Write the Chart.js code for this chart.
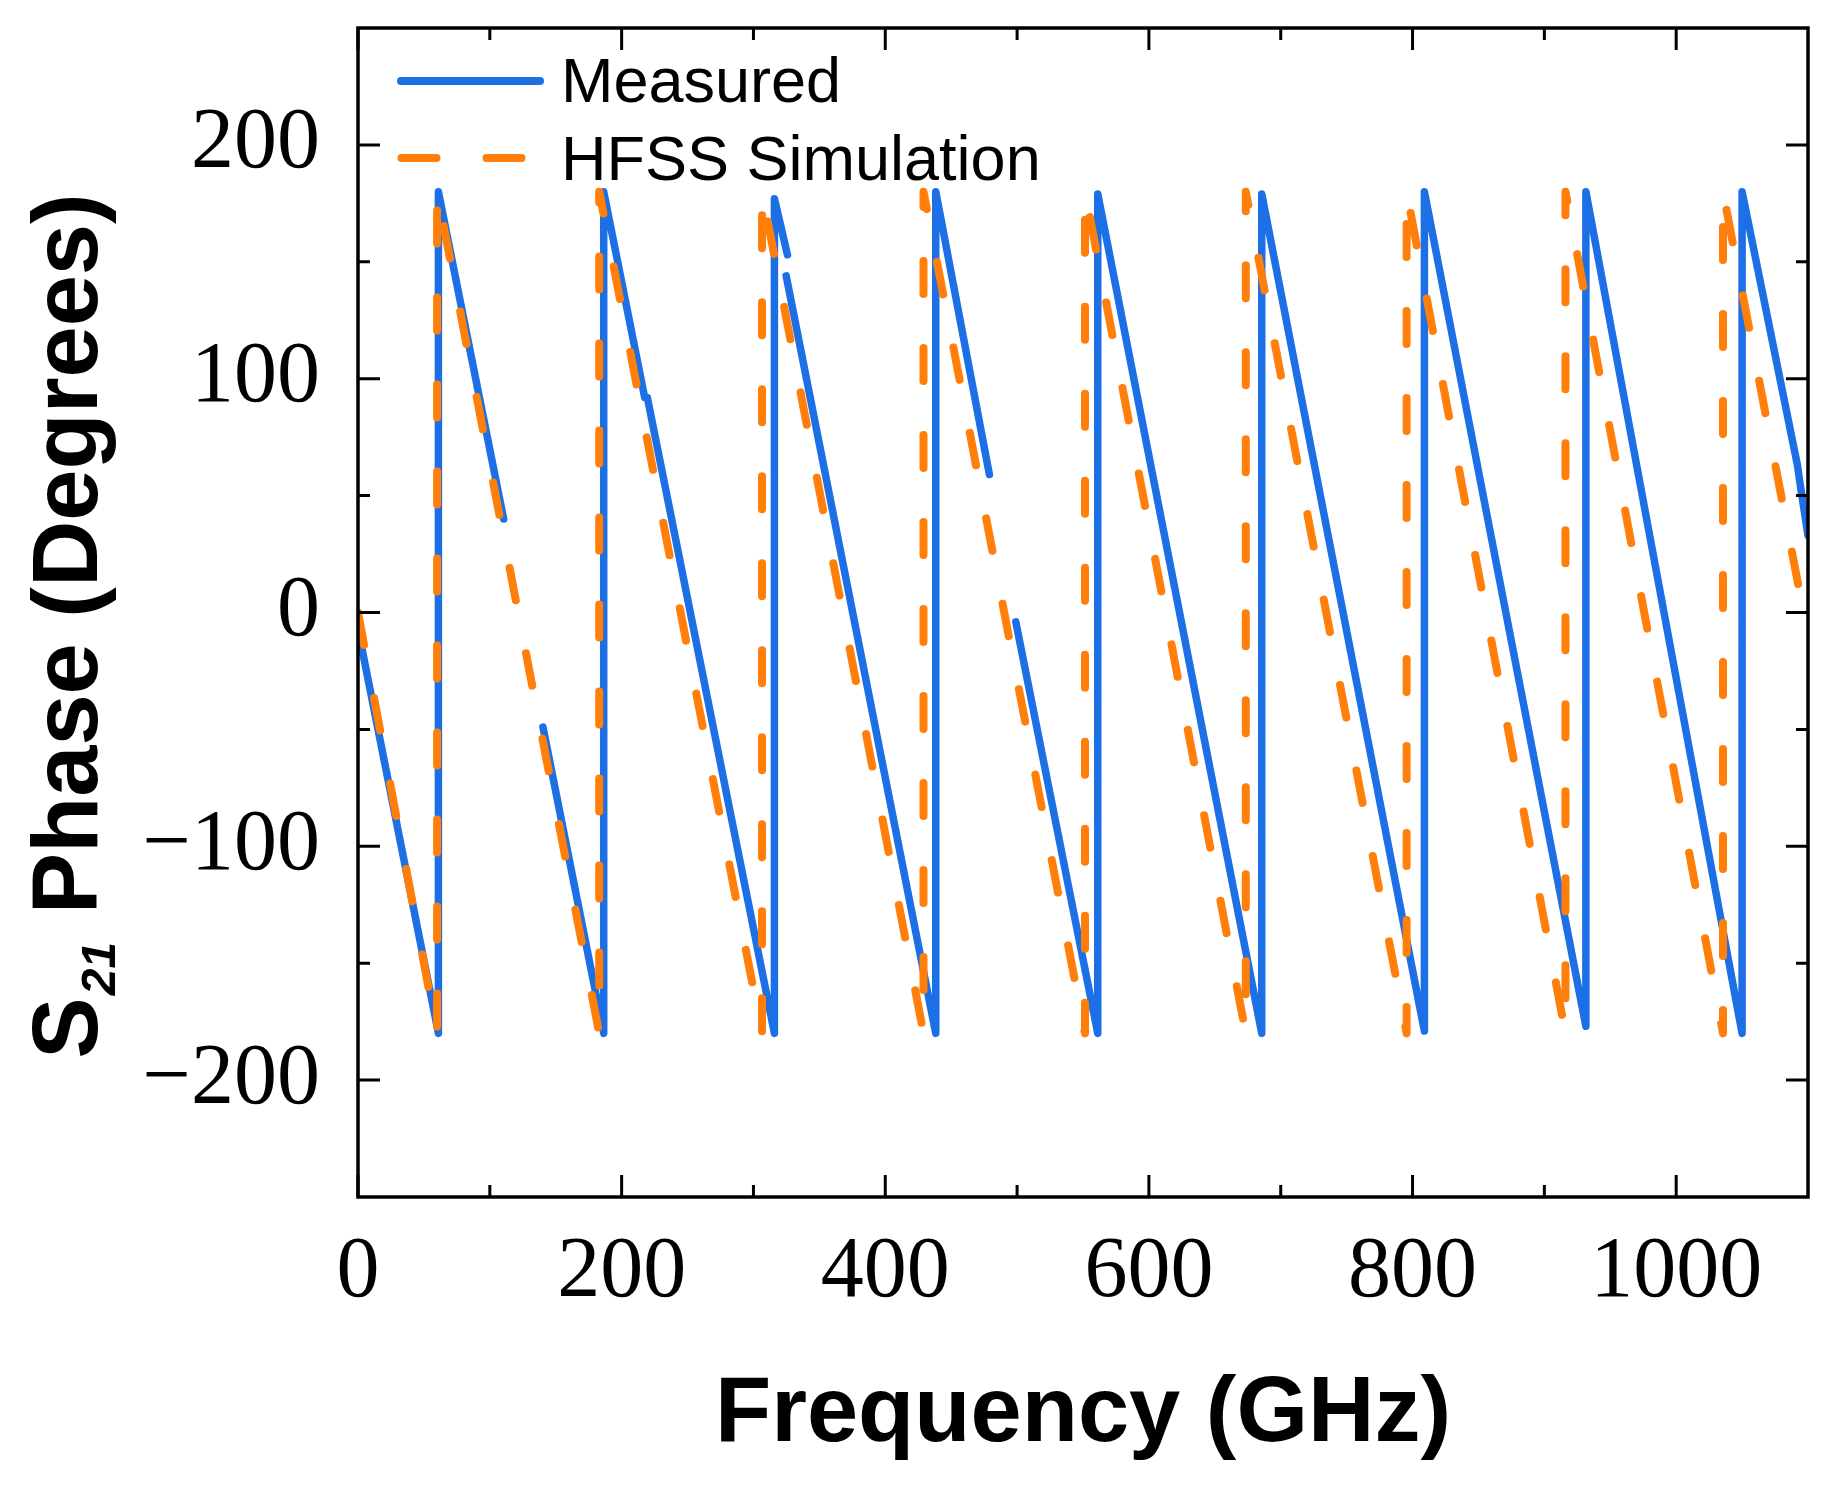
<!DOCTYPE html>
<html>
<head>
<meta charset="utf-8">
<title>S21 Phase</title>
<script src="https://cdn.jsdelivr.net/npm/chart.js@4.4.0/dist/chart.umd.min.js"></script>
<style>
  html, body { margin: 0; padding: 0; background: #ffffff; }
  #wrap { width: 1837px; height: 1495px; }
</style>
</head>
<body>
<div id="wrap"><canvas id="phaseChart" width="1837" height="1495"></canvas></div>
<script>
// measured S21 phase (null = missing samples)
const measuredFreq = [2.5, 61, 61, 110.5, 125, 140.3, 186.4, 186.4, 217.5, 219.5, 315.9, 315.9, 325.8, 325.3, 324.8,
  438.3, 438.3, 479, 489, 499, 561.2, 561.2, 685.6, 685.6, 809, 809, 931.5, 931.5, 1050, 1050, 1092, 1094, 1100];
const measuredPhase = [-14, -180, 180, 40, null, -49, -180, 180, 92, 92, -180, 177, 153, null, 144,
  -180, 180, 59, null, -4, -180, 179, -180, 179, -179, 180, -177, 180, -180, 180, 63, 55, 33];

// HFSS simulation
const simFreq = [0, 60, 60, 183, 183, 306.5, 306.5, 429, 429, 551.5, 551.5, 673.5, 673.5, 795.5, 795.5,
  916, 916, 1035.5, 1035.5, 1100];
const simPhase = [0, -180, 180, -180, 180, -180, 180, -180, 180, -180, 180, -180, 180, -180, 180,
  -180, 180, -180, 180, -10];

const xTicks = [0, 200, 400, 600, 800, 1000];
const xMinorTicks = [100, 300, 500, 700, 900];
const yTicks = [-200, -100, 0, 100, 200];
const yMinorTicks = [-150, -50, 50, 150];

const blue = "#1c6fe4";
const orange = "#ff7f0a";

function toPoints(xs, ys) {
  return xs.map((x, i) => ({ x: x, y: ys[i] }));
}

// box, inward ticks on all four sides
const framePlugin = {
  id: "frame",
  afterDatasetsDraw(chart) {
    const ctx = chart.ctx;
    const a = chart.chartArea;
    const xs = chart.scales.x;
    const ys = chart.scales.y;

    ctx.save();
    ctx.strokeStyle = "#000";
    ctx.lineWidth = 3;

    function xTick(v, len) {
      const px = xs.getPixelForValue(v);
      ctx.beginPath();
      ctx.moveTo(px, a.bottom);
      ctx.lineTo(px, a.bottom - len);
      ctx.moveTo(px, a.top);
      ctx.lineTo(px, a.top + len);
      ctx.stroke();
    }

    function yTick(v, len) {
      const py = ys.getPixelForValue(v);
      ctx.beginPath();
      ctx.moveTo(a.left, py);
      ctx.lineTo(a.left + len, py);
      ctx.moveTo(a.right, py);
      ctx.lineTo(a.right - len, py);
      ctx.stroke();
    }

    xTicks.forEach(v => xTick(v, 22));
    xMinorTicks.forEach(v => xTick(v, 12));
    yTicks.forEach(v => yTick(v, 22));
    yMinorTicks.forEach(v => yTick(v, 12));

    ctx.lineWidth = 3.5;
    ctx.strokeRect(a.left, a.top, a.right - a.left, a.bottom - a.top);
    ctx.restore();
  }
};

// legend inside the upper left corner
const legendPlugin = {
  id: "insideLegend",
  afterDatasetsDraw(chart) {
    const ctx = chart.ctx;
    const sets = chart.data.datasets;
    ctx.save();
    ctx.lineCap = "round";

    ctx.strokeStyle = sets[0].borderColor;
    ctx.lineWidth = 8;
    ctx.beginPath();
    ctx.moveTo(401, 81);
    ctx.lineTo(540, 81);
    ctx.stroke();

    ctx.strokeStyle = sets[1].borderColor;
    ctx.setLineDash([35, 50]);
    ctx.beginPath();
    ctx.moveTo(401.5, 158);
    ctx.lineTo(524, 158);
    ctx.stroke();
    ctx.setLineDash([]);

    ctx.fillStyle = "#000";
    ctx.font = "63px 'Liberation Sans', Arial, sans-serif";
    ctx.textBaseline = "alphabetic";
    ctx.fillText(sets[0].label, 561, 102);
    ctx.fillText(sets[1].label, 561, 180);
    ctx.restore();
  }
};

// rotated y title with the subscript
const yTitlePlugin = {
  id: "yTitle",
  afterDraw(chart) {
    const ctx = chart.ctx;
    const mainFont = "bold 92px 'Liberation Sans', Arial, sans-serif";
    const subFont = "italic bold 48px 'Liberation Sans', Arial, sans-serif";
    const head = "S";
    const sub = "21";
    const rest = " Phase (Degrees)";

    ctx.save();
    ctx.fillStyle = "#000";
    ctx.textBaseline = "alphabetic";
    ctx.font = mainFont;
    const wHead = ctx.measureText(head).width;
    const wRest = ctx.measureText(rest).width;
    ctx.font = subFont;
    const wSub = ctx.measureText(sub).width + 4;
    const total = wHead + wSub + wRest;

    ctx.translate(97, 626);
    ctx.rotate(-Math.PI / 2);
    let x = -total / 2;
    ctx.font = mainFont;
    ctx.fillText(head, x, 0);
    x += wHead + 2;
    ctx.font = subFont;
    ctx.fillText(sub, x, 18);
    x += wSub - 2;
    ctx.font = mainFont;
    ctx.fillText(rest, x, 0);
    ctx.restore();
  }
};

const ctx = document.getElementById("phaseChart").getContext("2d");

new Chart(ctx, {
  type: "line",
  data: {
    datasets: [
      {
        label: "Measured",
        data: toPoints(measuredFreq, measuredPhase),
        borderColor: blue,
        borderWidth: 7.5,
        borderCapStyle: "round",
        borderJoinStyle: "round",
        pointRadius: 0,
        tension: 0,
        spanGaps: false,
        order: 1
      },
      {
        label: "HFSS Simulation",
        data: toPoints(simFreq, simPhase),
        borderColor: orange,
        borderWidth: 8,
        borderDash: [33, 54],
        borderCapStyle: "round",
        borderJoinStyle: "round",
        pointRadius: 0,
        tension: 0,
        order: 0
      }
    ]
  },
  options: {
    responsive: false,
    devicePixelRatio: 1,
    animation: false,
    layout: {
      padding: { left: 0, top: 28, right: 29, bottom: 0 }
    },
    plugins: {
      legend: { display: false },
      tooltip: { enabled: false }
    },
    scales: {
      x: {
        type: "linear",
        position: "bottom",
        min: 0,
        max: 1100,
        grid: { display: false },
        border: { display: false },
        afterFit(scale) {
          scale.height = 298;
          scale.paddingLeft = 0;
          scale.paddingRight = 0;
        },
        afterBuildTicks(scale) {
          scale.ticks = xTicks.map(v => ({ value: v }));
        },
        ticks: {
          color: "#000",
          padding: 17,
          maxRotation: 0,
          font: { family: "'Liberation Serif', 'Times New Roman', serif", size: 86, lineHeight: 1.2 },
          callback: v => String(v)
        },
        title: {
          display: true,
          text: "Frequency (GHz)",
          color: "#000",
          padding: { top: 0, bottom: 24 },
          font: { family: "'Liberation Sans', Arial, sans-serif", size: 92, weight: "bold", lineHeight: 1.2 }
        }
      },
      y: {
        type: "linear",
        min: -250,
        max: 250,
        grid: { display: false },
        border: { display: false },
        afterFit(scale) {
          scale.width = 358;
          scale.paddingTop = 0;
          scale.paddingBottom = 0;
        },
        afterBuildTicks(scale) {
          scale.ticks = yTicks.map(v => ({ value: v }));
        },
        ticks: {
          color: "#000",
          padding: 30,
          font: { family: "'Liberation Serif', 'Times New Roman', serif", size: 86 },
          callback: v => (v < 0 ? "\u2212" + Math.abs(v) : String(v))
        }
      }
    }
  },
  plugins: [framePlugin, legendPlugin, yTitlePlugin]
});
</script>
</body>
</html>
